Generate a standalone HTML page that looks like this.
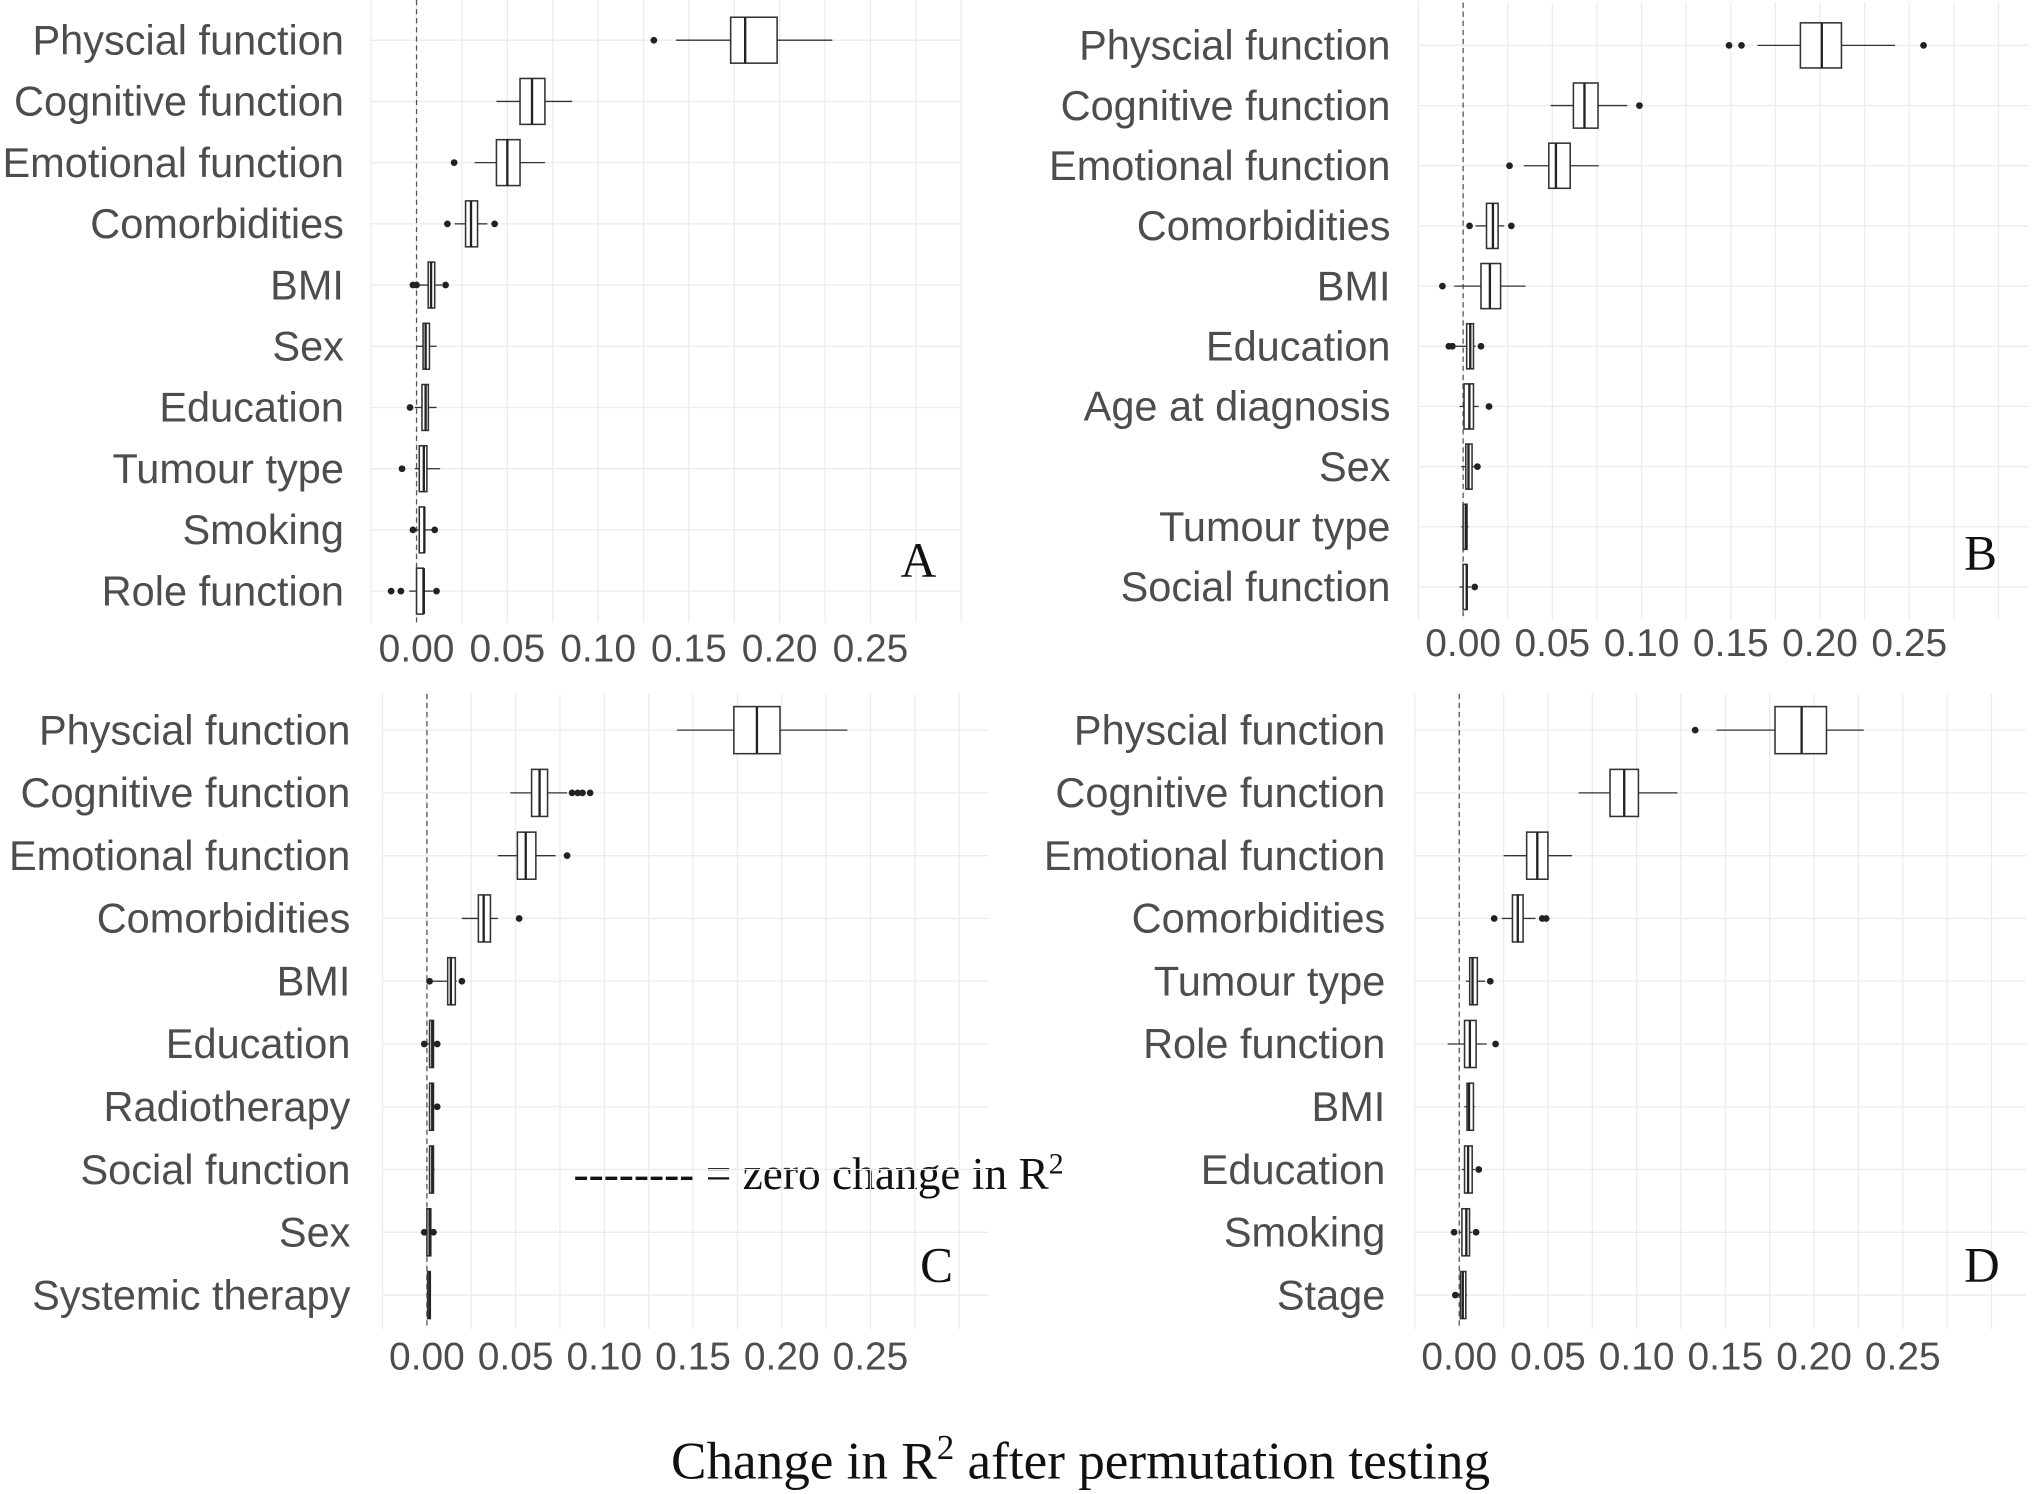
<!DOCTYPE html>
<html><head><meta charset="utf-8"><style>
html,body{margin:0;padding:0;background:#fff;}
svg{display:block;}
</style></head><body>
<svg id="fig" width="2034" height="1494" viewBox="0 0 1568 1152" xmlns="http://www.w3.org/2000/svg">
<text x="833" y="1140" text-anchor="middle" font-family="Liberation Serif, serif" font-size="41" fill="#111">Change in R<tspan font-size="27" dy="-15">2</tspan><tspan dy="15"> after permutation testing</tspan></text>
<text x="442" y="917" font-family="Liberation Serif, serif" font-size="35" fill="#111">-------- = zero change in R<tspan font-size="23" dy="-12">2</tspan></text>
</svg>
<script>
// Panel A
const aLabels = ["Physcial function","Cognitive function","Emotional function","Comorbidities","BMI","Sex","Education","Tumour type","Smoking","Role function"];
const aWlo = [0.143,0.044,0.032,0.021,0.001,0.000,-0.001,-0.001,-0.001,-0.004];
const aQ1  = [0.173,0.057,0.044,0.027,0.0064,0.0036,0.003,0.0015,0.0015,0.0000];
const aMed = [0.181,0.0636,0.050,0.030,0.008,0.005,0.005,0.004,0.0043,0.004];
const aQ3  = [0.1986,0.0707,0.057,0.0336,0.010,0.0071,0.0065,0.0057,0.0043,0.0036];
const aWhi = [0.229,0.0857,0.0707,0.039,0.014,0.011,0.011,0.013,0.009,0.009];
const aOut = [[0.1307],[],[0.0207],[0.017,0.043],[-0.002,0.0,0.016],[],[-0.0036],[-0.008],[-0.002,0.010],[-0.014,-0.0086,0.011]];
// Panel B
const bLabels = ["Physcial function","Cognitive function","Emotional function","Comorbidities","BMI","Education","Age at diagnosis","Sex","Tumour type","Social function"];
const bWlo = [0.165,0.049,0.034,0.007,-0.005,-0.004,-0.002,-0.001,-0.001,-0.002];
const bQ1  = [0.189,0.0618,0.048,0.0131,0.010,0.002,0.0005,0.0015,0.0,0.0];
const bMed = [0.201,0.068,0.052,0.0167,0.015,0.004,0.0035,0.003,0.0015,0.002];
const bQ3  = [0.212,0.0756,0.060,0.0196,0.021,0.0058,0.0058,0.005,0.0022,0.0022];
const bWhi = [0.242,0.092,0.076,0.023,0.035,0.007,0.0087,0.0087,0.003,0.0044];
const bOut = [[0.149,0.156,0.258],[0.0988],[0.026],[0.0036,0.027],[-0.0116],[-0.008,-0.006,0.010],[0.0145],[0.008],[],[0.0065]];
// Panel C
const cLabels = ["Physcial function","Cognitive function","Emotional function","Comorbidities","BMI","Education","Radiotherapy","Social function","Sex","Systemic therapy"];
const cWlo = [0.141,0.047,0.040,0.0197,0.003,-0.001,0.001,0.001,-0.001,0.000];
const cQ1  = [0.173,0.059,0.051,0.029,0.0117,0.0015,0.0015,0.0015,0.0,0.0004];
const cMed = [0.186,0.0635,0.0557,0.032,0.0135,0.003,0.003,0.003,0.0015,0.0015];
const cQ3  = [0.199,0.068,0.0614,0.0358,0.016,0.0037,0.0037,0.0037,0.0022,0.0019];
const cWhi = [0.237,0.079,0.0725,0.040,0.0168,0.0044,0.0044,0.0044,0.003,0.0022];
const cOut = [[],[0.0818,0.085,0.0877,0.092],[0.079],[0.052],[0.0015,0.0197],[-0.0015,0.0058],[0.0058],[],[-0.0015,0.0037],[]];
// Panel D
const dLabels = ["Physcial function","Cognitive function","Emotional function","Comorbidities","Tumour type","Role function","BMI","Education","Smoking","Stage"];
const dWlo = [0.145,0.0673,0.025,0.024,0.0037,-0.0065,0.0029,0.0015,0.0,-0.0015];
const dQ1  = [0.178,0.085,0.038,0.030,0.0059,0.003,0.0044,0.003,0.0015,0.0007];
const dMed = [0.193,0.093,0.044,0.033,0.0075,0.006,0.0055,0.005,0.004,0.002];
const dQ3  = [0.207,0.101,0.050,0.036,0.0102,0.0095,0.008,0.0073,0.0058,0.0037];
const dWhi = [0.228,0.123,0.0636,0.043,0.0146,0.0154,0.0088,0.0088,0.0073,0.0044];
const dOut = [[0.133],[],[],[0.0197,0.0468,0.049],[0.0175],[0.0205],[],[0.011],[-0.0029,0.0095],[-0.0022]];
// Axis
const tickVals = [0.00,0.05,0.10,0.15,0.20,0.25];
const tickLabels = ["0.00","0.05","0.10","0.15","0.20","0.25"];
const gridVals = [-0.025,0,0.025,0.05,0.075,0.1,0.125,0.15,0.175,0.2,0.225,0.25,0.275,0.3];

const NS = "http://www.w3.org/2000/svg";
const svg = document.getElementById('fig');
function mk(tag, attrs, parent){
  const e = document.createElementNS(NS, tag);
  for (const k in attrs) e.setAttribute(k, attrs[k]);
  (parent||svg).appendChild(e);
  return e;
}
const panels = [
  {id:"a", letter:"A", labels:aLabels, wlo:aWlo, q1:aQ1, med:aMed, q3:aQ3, whi:aWhi, out:aOut, x0:321, k:1400, y0:31, dy:47.2, lx:265, ty:510, top:0, bot:480, left:285, right:742, lpx:708, lpy:445},
  {id:"b", letter:"B", labels:bLabels, wlo:bWlo, q1:bQ1, med:bMed, q3:bQ3, whi:bWhi, out:bOut, x0:1128, k:1376, y0:35, dy:46.4, lx:1072, ty:506, top:2, bot:478, left:1094, right:1564, lpx:1527, lpy:439},
  {id:"c", letter:"C", labels:cLabels, wlo:cWlo, q1:cQ1, med:cMed, q3:cQ3, whi:cWhi, out:cOut, x0:329, k:1368, y0:563, dy:48.4, lx:270, ty:1056, top:535, bot:1025, left:294, right:762, lpx:722, lpy:988},
  {id:"d", letter:"D", labels:dLabels, wlo:dWlo, q1:dQ1, med:dMed, q3:dQ3, whi:dWhi, out:dOut, x0:1125, k:1368, y0:563, dy:48.4, lx:1068, ty:1056, top:535, bot:1025, left:1090, right:1562, lpx:1528, lpy:988}
];
panels.forEach(p => {
  const g = mk('g', {});
  
  
  const X = v => p.x0 + v * p.k;
  const Y = i => p.y0 + i * p.dy;
  gridVals.forEach(v => {
    const l = mk('line', {x1:X(v), x2:X(v), y1:p.top, y2:p.bot, stroke:'#ececec', 'stroke-width':1}, g);
    
    
  });
  p.labels.forEach((lab, i) => {
    const l = mk('line', {x1:p.left, x2:p.right, y1:Y(i), y2:Y(i), stroke:'#ececec', 'stroke-width':1}, g);
    
    
  });
  const z = mk('line', {x1:X(0), x2:X(0), y1:p.top, y2:p.bot, stroke:'#555', 'stroke-width':1, 'stroke-dasharray':'4,3'}, g);
  
  
  const bh = p.dy * 0.75;
  p.labels.forEach((lab, i) => {
    const y = Y(i);
    const t = mk('text', {x:p.lx, y:y + 11, 'text-anchor':'end', 'font-family':'Liberation Sans, sans-serif', 'font-size':32, fill:'#4d4d4d'}, g);
    t.textContent = lab;
    
    
    const bx = mk('g', {}, g);
    
    
    mk('line', {x1:X(p.wlo[i]), x2:X(p.q1[i]), y1:y, y2:y, stroke:'#333', 'stroke-width':1}, bx);
    mk('line', {x1:X(p.q3[i]), x2:X(p.whi[i]), y1:y, y2:y, stroke:'#333', 'stroke-width':1}, bx);
    const w = Math.max(X(p.q3[i]) - X(p.q1[i]), 1.5);
    mk('rect', {x:X(p.q1[i]), y:y - bh/2, width:w, height:bh, fill:'#fff', stroke:'#333', 'stroke-width':1.2}, bx);
    mk('line', {x1:X(p.med[i]), x2:X(p.med[i]), y1:y - bh/2, y2:y + bh/2, stroke:'#222', 'stroke-width':1.8}, bx);
    p.out[i].forEach(o => {
      const c = mk('circle', {cx:X(o), cy:y, r:2.6, fill:'#222'}, bx);
      
      
    });
  });
  tickVals.forEach((v, j) => {
    const t = mk('text', {x:X(v), y:p.ty, 'text-anchor':'middle', 'font-family':'Liberation Sans, sans-serif', 'font-size':30, fill:'#4d4d4d'}, g);
    t.textContent = tickLabels[j];
    
    
  });
  const L = mk('text', {x:p.lpx, y:p.lpy, 'text-anchor':'middle', 'font-family':'Liberation Serif, serif', 'font-size':38, fill:'#111'}, g);
  L.textContent = p.letter;
  
  
});
</script>
</body></html>
